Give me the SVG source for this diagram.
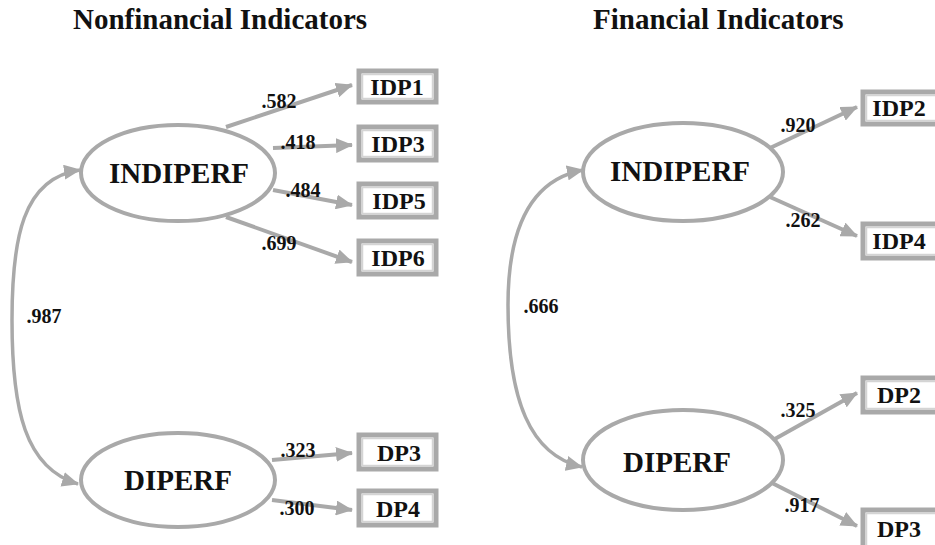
<svg xmlns="http://www.w3.org/2000/svg" width="935" height="545" viewBox="0 0 935 545">
<style>
.t{font-family:"Liberation Serif","Times New Roman",serif;font-weight:bold;fill:#111}
.title{font-size:29px}
.lat{font-size:29px;text-anchor:middle}
.obs{font-size:24px;text-anchor:middle}
.num{font-size:20px;text-anchor:middle}
.ell{fill:#fff;stroke:#a9a9a9;stroke-width:4}
.box{fill:#fff;stroke:#a9a9a9;stroke-width:5}
.boxin{fill:none;stroke:#d4d4d4;stroke-width:1.5}
.ln{fill:none;stroke:#a9a9a9;stroke-width:4;marker-end:url(#ah)}
.cv{fill:none;stroke:#a9a9a9;stroke-width:3.5;marker-start:url(#ah);marker-end:url(#ah)}
</style>
<defs>
<marker id="ah" markerUnits="userSpaceOnUse" markerWidth="17" markerHeight="15" refX="16" refY="7.5" orient="auto-start-reverse">
<path d="M0,0 L17,7.5 L0,15 z" fill="#a9a9a9"/>
</marker>
</defs>
<rect width="935" height="545" fill="#fff"/>
<text class="t title" x="73" y="29">Nonfinancial Indicators</text>
<text class="t title" x="593" y="29">Financial Indicators</text>

<g id="connectors">
<path class="cv" d="M80,170 C22,178 12,240 12,320 C12,410 25,468 78,484"/>
<line class="ln" x1="226" y1="127" x2="352" y2="85"/>
<line class="ln" x1="273" y1="148" x2="352" y2="145"/>
<line class="ln" x1="273" y1="190" x2="352" y2="205"/>
<line class="ln" x1="226" y1="217" x2="352" y2="262"/>
<line class="ln" x1="272" y1="460" x2="352" y2="453"/>
<line class="ln" x1="272" y1="500" x2="352" y2="510"/>
<path class="cv" d="M583,170 C530,180 508,230 508,305 C508,400 530,455 582,467"/>
<line class="ln" x1="770" y1="148" x2="857" y2="107"/>
<line class="ln" x1="770" y1="197" x2="857" y2="236"/>
<line class="ln" x1="773" y1="440" x2="857" y2="393"/>
<line class="ln" x1="772" y1="483" x2="857" y2="526"/>
<text class="t num" x="279" y="108">.582</text>
<text class="t num" x="298" y="149">.418</text>
<text class="t num" x="303" y="197">.484</text>
<text class="t num" x="279" y="250">.699</text>
<text class="t num" x="298" y="457">.323</text>
<text class="t num" x="297" y="515">.300</text>
<text class="t num" x="44" y="323">.987</text>
<text class="t num" x="798" y="132">.920</text>
<text class="t num" x="803" y="227">.262</text>
<text class="t num" x="798" y="417">.325</text>
<text class="t num" x="802" y="512">.917</text>
<text class="t num" x="541" y="313">.666</text>
</g>

<g id="L_INDIPERF"><ellipse class="ell" cx="178" cy="173" rx="97" ry="48"/><text class="t lat" x="179" y="183">INDIPERF</text></g>
<g id="L_DIPERF"><ellipse class="ell" cx="178" cy="480" rx="97" ry="47"/><text class="t lat" x="178" y="490">DIPERF</text></g>
<g id="R_INDIPERF"><ellipse class="ell" cx="683" cy="172" rx="100" ry="49"/><text class="t lat" x="680" y="181">INDIPERF</text></g>
<g id="R_DIPERF"><ellipse class="ell" cx="683" cy="460" rx="100" ry="50"/><text class="t lat" x="677" y="472">DIPERF</text></g>

<g id="IDP1"><rect class="box" x="359" y="71" width="77" height="31"/><rect class="boxin" x="362.5" y="74.5" width="70" height="24"/><text class="t obs" x="397" y="95">IDP1</text></g>
<g id="IDP3"><rect class="box" x="359" y="127" width="77" height="33"/><rect class="boxin" x="362.5" y="130.5" width="70" height="26"/><text class="t obs" x="398" y="152">IDP3</text></g>
<g id="IDP5"><rect class="box" x="359" y="184" width="77" height="33"/><rect class="boxin" x="362.5" y="187.5" width="70" height="26"/><text class="t obs" x="399" y="209">IDP5</text></g>
<g id="IDP6"><rect class="box" x="359" y="241" width="77" height="33"/><rect class="boxin" x="362.5" y="244.5" width="70" height="26"/><text class="t obs" x="398" y="266">IDP6</text></g>
<g id="DP3L"><rect class="box" x="359" y="435" width="77" height="34"/><rect class="boxin" x="362.5" y="438.5" width="70" height="27"/><text class="t obs" x="399" y="461">DP3</text></g>
<g id="DP4"><rect class="box" x="359" y="491" width="77" height="34"/><rect class="boxin" x="362.5" y="494.5" width="70" height="27"/><text class="t obs" x="398" y="517">DP4</text></g>

<g id="IDP2"><rect class="box" x="863" y="92" width="80" height="32"/><rect class="boxin" x="866.5" y="95.5" width="75" height="25"/><text class="t obs" x="899" y="116">IDP2</text></g>
<g id="IDP4"><rect class="box" x="863" y="224" width="80" height="34"/><rect class="boxin" x="866.5" y="227.5" width="75" height="27"/><text class="t obs" x="899" y="249">IDP4</text></g>
<g id="DP2"><rect class="box" x="863" y="378" width="80" height="34"/><rect class="boxin" x="866.5" y="381.5" width="75" height="27"/><text class="t obs" x="899" y="403">DP2</text></g>
<g id="DP3R"><rect class="box" x="863" y="510" width="80" height="40"/><rect class="boxin" x="866.5" y="513.5" width="75" height="33"/><text class="t obs" x="899" y="537">DP3</text></g>
</svg>
